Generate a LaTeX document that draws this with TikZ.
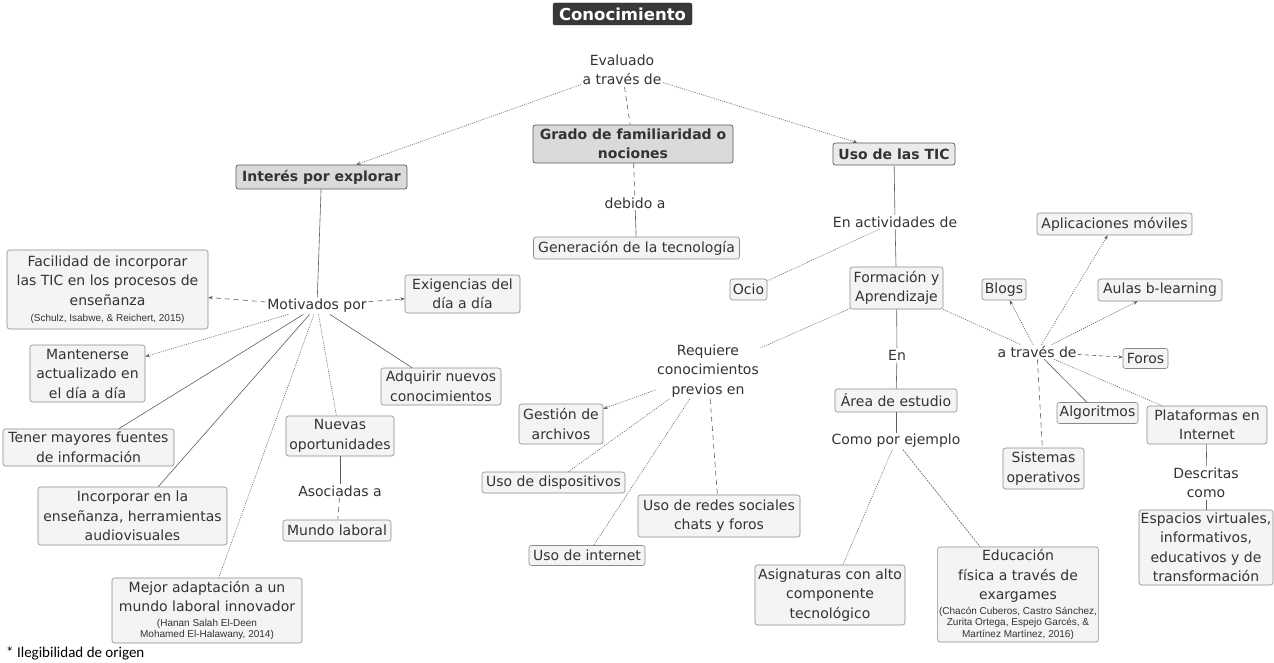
\documentclass[tikz,border=0pt]{standalone}
\usepackage{fontspec}
\setmainfont{DejaVu Sans}
\newfontfamily\citefont{Liberation Sans}
\newfontfamily\notefont{Carlito}
\usetikzlibrary{arrows.meta}
\definecolor{txt}{HTML}{333333}
\definecolor{lnc}{HTML}{5E5E5E}
\definecolor{bxfill}{HTML}{F4F4F4}
\definecolor{bxdraw}{HTML}{8A8A8A}
\definecolor{hdrfill}{HTML}{DADADA}
\newcommand{\cit}[1]{{\citefont\fontsize{10}{11}\selectfont #1}}
\tikzset{
  base/.style={font=\fontsize{14}{19.5}\selectfont, text=txt, align=center, inner sep=1.5pt},
  lbl/.style={base},
  bx/.style={base, draw=bxdraw, fill=bxfill, rounded corners=2.5pt, line width=0.6pt},
  hdr/.style={base, font=\bfseries\fontsize{14}{19.5}\selectfont, draw=black!65, fill=hdrfill, rounded corners=2.5pt, line width=0.7pt},
  ttl/.style={font=\bfseries\fontsize{16.5}{20}\selectfont, text=white, fill=black!78, draw=black!85, rounded corners=2pt, inner sep=1pt},
  ln/.style={draw=lnc, line width=0.6pt},
  sol/.style={ln},
  dot/.style={ln, dash pattern=on 1pt off 1.2pt},
  dsh/.style={ln, dash pattern=on 5pt off 4pt},
  arr/.style={-{Stealth[length=4.5pt,width=3.5pt]}},
}
\begin{document}
\begin{tikzpicture}[x=1pt,y=-1pt]
\useasboundingbox (0,0) rectangle (1274,663);

% title and top level
\node[ttl, minimum width=139, minimum height=22] (tit) at (622.5,14) {Conocimiento};
\node[lbl] (ev) at (622,70) {Evaluado\\a través de};
\node[hdr, minimum width=171, minimum height=24] (int) at (321.5,177) {Interés por explorar};
\node[hdr, minimum width=200, minimum height=38] (gra) at (633,144) {Grado de familiaridad o\\nociones};
\node[hdr, fill=black!8, minimum width=122, minimum height=22] (uso) at (894,154) {Uso de las TIC};

% middle branch
\node[lbl] (deb) at (635,203) {debido a};
\node[bx, minimum width=206, minimum height=22] (gen) at (636.5,248) {Generación de la tecnología};

% right branch
\node[lbl] (enact) at (895,222) {En actividades de};
\node[bx, minimum width=37, minimum height=21] (ocio) at (748.5,289.5) {Ocio};
\node[bx, minimum width=93, minimum height=42] (form) at (896.5,288) {Formación y\\Aprendizaje};
\node[lbl] (req) at (708,371) {Requiere\\conocimientos\\previos en};
\node[bx, minimum width=84, minimum height=40] (gest) at (561,424) {Gestión de\\archivos};
\node[bx, minimum width=143, minimum height=21] (disp) at (553.5,482.5) {Uso de dispositivos};
\node[bx, minimum width=116, minimum height=20] (inet) at (587,555.5) {Uso de internet};
\node[bx, minimum width=162, minimum height=42] (redes) at (719,516) {Uso de redes sociales\\chats y foros};
\node[lbl] (en) at (897,355) {En};
\node[bx, minimum width=122, minimum height=23] (area) at (896,400.5) {Área de estudio};
\node[lbl] (como) at (896,441) {Como por ejemplo};
\node[bx, minimum width=150, minimum height=60] (asig) at (830,595) {Asignaturas con alto\\componente\\tecnológico};
\node[bx, minimum width=160, minimum height=95] (edu) at (1018,594.5) {Educación\\física a través de\\exargames\\[-5pt]\cit{(Chacón Cuberos, Castro Sánchez,}\\[-8pt]\cit{Zurita Ortega, Espejo Garcés, \&}\\[-8pt]\cit{Martínez Martínez, 2016)}};
\node[lbl] (atr) at (1037,352) {a través de};
\node[bx, minimum width=44, minimum height=21] (blogs) at (1004,289.5) {Blogs};
\node[bx, minimum width=155, minimum height=22] (apps) at (1114.5,224) {Aplicaciones móviles};
\node[bx, minimum width=124, minimum height=22] (aulas) at (1160,290) {Aulas b-learning};
\node[bx, minimum width=45, minimum height=20] (foros) at (1145.5,358.5) {Foros};
\node[bx, minimum width=81, minimum height=21] (alg) at (1097.5,413) {Algoritmos};
\node[bx, minimum width=120, minimum height=38] (plat) at (1207,425) {Plataformas en\\Internet};
\node[bx, minimum width=81, minimum height=41] (sis) at (1043.5,468.5) {Sistemas\\operativos};
\node[lbl] (desc) at (1206,483) {Descritas\\como};
\node[bx, minimum width=134, minimum height=75] (esp) at (1206,547.5) {Espacios virtuales,\\informativos,\\educativos y de\\transformación};

% left branch
\node[lbl] (mot) at (317,306) {Motivados por};
\node[bx, minimum width=201, minimum height=79] (fac) at (107.5,289.5) {Facilidad de incorporar\\las TIC en los procesos de\\enseñanza\\[-3pt]\cit{(Schulz, Isabwe, \& Reichert, 2015)}};
\node[bx, minimum width=115, minimum height=38] (exi) at (462.5,294) {Exigencias del\\día a día};
\node[bx, minimum width=115, minimum height=57] (man) at (87.5,373.5) {Mantenerse\\actualizado en\\el día a día};
\node[bx, minimum width=120, minimum height=37] (adq) at (441,386.5) {Adquirir nuevos\\conocimientos};
\node[bx, minimum width=108, minimum height=40] (nue) at (340,436) {Nuevas\\oportunidades};
\node[lbl] (aso) at (340,491) {Asociadas a};
\node[bx, minimum width=108, minimum height=21] (mun) at (337,530.5) {Mundo laboral};
\node[bx, minimum width=171, minimum height=37] (ten) at (88.5,447.5) {Tener mayores fuentes\\de información};
\node[bx, minimum width=189, minimum height=58] (inc) at (132.5,516) {Incorporar en la\\enseñanza, herramientas\\audiovisuales};
\node[bx, minimum width=190, minimum height=65] (mej) at (207,610.5) {Mejor adaptación a un\\mundo laboral innovador\\[-5pt]\cit{(Hanan Salah El-Deen}\\[-8pt]\cit{Mohamed El-Halawany, 2014)}};

\node[anchor=west, font=\notefont\fontsize{15}{17}\selectfont, text=black, inner sep=0pt] (nota) at (6,653) {* Ilegibilidad de origen};

% connectors: top
\draw[dot, arr] (ev) -- (int);
\draw[dsh] (ev) -- (gra);
\draw[dot, arr] (ev) -- (uso);
\draw[dsh] (gra) -- (deb);
\draw[sol] (deb) -- (gen);

% right
\draw[sol] (uso) -- (enact);
\draw[dot] (enact) -- (ocio);
\draw[sol] (enact) -- (form);
\draw[dot] (form) -- (req);
\draw[sol] (form) -- (en);
\draw[sol] (en) -- (area);
\draw[sol] (area) -- (como);
\draw[dot] (como) -- (asig);
\draw[ln, dash pattern=on 2pt off 1pt] (como) -- (edu);
\draw[dot] (form) -- (atr);
\draw[dot, arr] (atr) -- (blogs);
\draw[dot, arr] (atr) -- (apps);
\draw[dot, arr] (atr) -- (aulas);
\draw[dsh, arr, dash pattern=on 4pt off 3pt] (atr) -- (foros);
\draw[sol] (atr) -- (alg);
\draw[dot] (atr) -- (plat);
\draw[dsh] (atr) -- (sis);
\draw[sol] (plat) -- (desc);
\draw[sol] (desc) -- (esp);
\draw[dot, arr] (req) -- (gest);
\draw[dot] (req) -- (disp);
\draw[dot] (req) -- (inet);
\draw[dsh] (req) -- (redes);

% left
\draw[sol] (int) -- (mot);
\draw[dsh, arr] (mot) -- (fac);
\draw[dsh, arr] (mot) -- (exi);
\draw[dot, arr] (mot) -- (man);
\draw[sol] (mot) -- (adq);
\draw[dot] (mot) -- (nue);
\draw[sol] (nue) -- (aso);
\draw[dsh] (aso) -- (mun);
\draw[sol] (mot) -- (ten);
\draw[sol] (mot) -- (inc);
\draw[dot] (mot) -- (mej);
\end{tikzpicture}
\end{document}
